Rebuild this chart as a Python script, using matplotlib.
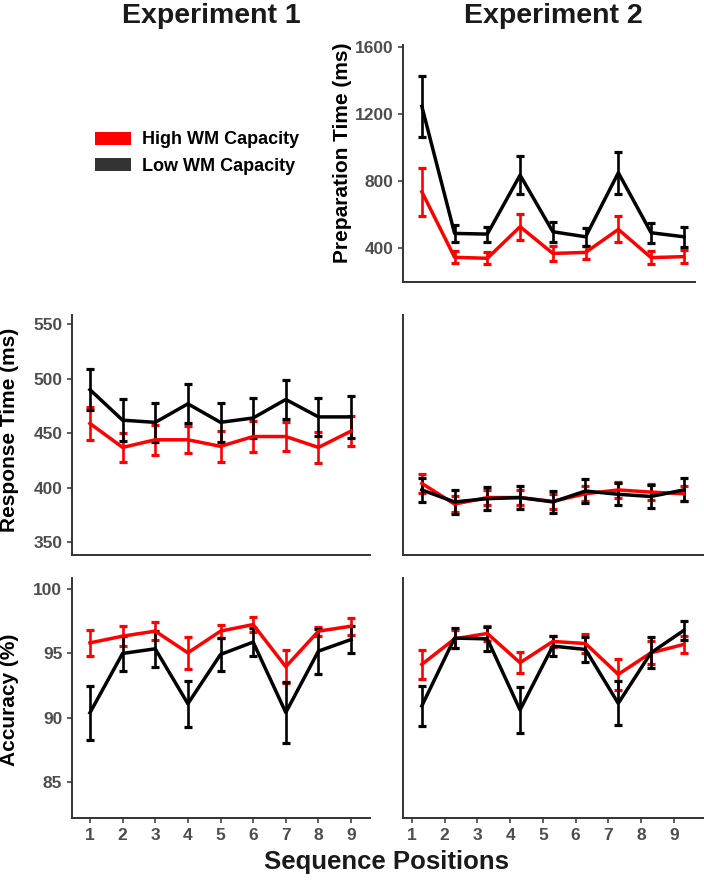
import matplotlib
matplotlib.use('Agg')
import matplotlib.pyplot as plt
from matplotlib.patches import Patch
import numpy as np

plt.rcParams['font.family'] = ['Liberation Sans', 'DejaVu Sans']
plt.rcParams['font.weight'] = 'bold'

positions = np.arange(1, 10)
exp2_shift = 0.3

# Experiment 2 preparation time (ms)
prep_high = [737, 347, 341, 529, 370, 376, 513, 345, 351]
prep_high_se = [142, 35, 35, 77, 45, 40, 77, 38, 40]
prep_low = [1245, 489, 485, 836, 499, 469, 850, 493, 469]
prep_low_se = [180, 50, 45, 113, 60, 55, 125, 60, 60]

# Response time (ms)
rt1_high = [459, 437, 444, 444, 438, 447, 447, 437, 452]
rt1_high_se = [15, 13, 13.5, 12.5, 14, 14, 13.5, 14, 14]
rt1_low = [490, 462, 460, 477, 460, 464, 481, 465, 465]
rt1_low_se = [19, 19, 18, 18, 18, 18, 18, 17.5, 19]
rt2_high = [404, 385, 391, 391, 387.5, 394.5, 398, 396, 394.5]
rt2_high_se = [8.5, 7, 7, 7, 7, 7, 7.5, 7.5, 7]
rt2_low = [398, 387, 390, 391, 387, 397, 394, 392, 398]
rt2_low_se = [11, 11, 10.5, 10.5, 10, 11, 10, 10.5, 10.5]

# Accuracy (%)
acc1_high = [95.82, 96.34, 96.73, 95.05, 96.73, 97.24, 93.97, 96.73, 97.11]
acc1_high_se = [1.0, 0.8, 0.7, 1.25, 0.5, 0.6, 1.3, 0.35, 0.65]
acc1_low = [90.4, 95.0, 95.36, 91.1, 94.92, 95.88, 90.42, 95.18, 96.08]
acc1_low_se = [2.1, 1.37, 1.4, 1.8, 1.3, 1.1, 2.4, 1.74, 1.05]
acc2_high = [94.15, 96.13, 96.55, 94.28, 95.93, 95.77, 93.38, 95.05, 95.70]
acc2_high_se = [1.13, 0.7, 0.6, 0.8, 0.4, 0.7, 1.22, 0.9, 0.65]
acc2_low = [90.93, 96.19, 96.13, 90.62, 95.57, 95.31, 91.13, 95.05, 96.78]
acc2_low_se = [1.55, 0.8, 0.93, 1.8, 0.8, 1.0, 1.7, 1.2, 0.7]

group_labels = ['High WM Capacity', 'Low WM Capacity']
group_colors = ['#ff0000', '#000000']

W, H = 704, 880
fig = plt.figure(figsize=(W / 100, H / 100), dpi=100)


def px_axes(x0, y0, x1, y1):
    return fig.add_axes([x0 / W, 1 - y1 / H, (x1 - x0) / W, (y1 - y0) / H])


def draw(ax, x, high, high_se, low, low_se):
    for m, se, c in [(high, high_se, group_colors[0]), (low, low_se, group_colors[1])]:
        ax.errorbar(x, m, yerr=se, color=c, lw=2.5, elinewidth=1.9,
                    capsize=2.6, capthick=2.3)


def style(ax, xticks=False, yticks=True):
    for s in ['top', 'right']:
        ax.spines[s].set_visible(False)
    for s in ['left', 'bottom']:
        ax.spines[s].set_color('#333333')
        ax.spines[s].set_linewidth(1.4)
    ax.tick_params(colors='#333333', labelcolor='#4d4d4d', labelsize=12.5,
                   length=3.5, width=1.1)
    if xticks:
        ax.set_xticks(positions)
    else:
        ax.set_xticks([])
    if not yticks:
        ax.set_yticks([])


# top-right: preparation time
ax_prep = px_axes(403, 45, 695, 282)
draw(ax_prep, positions + exp2_shift, prep_high, prep_high_se, prep_low, prep_low_se)
ax_prep.set_xlim(0.725, 9.64)
ax_prep.set_ylim(200, 1610)
ax_prep.set_yticks([400, 800, 1200, 1600])
style(ax_prep)

# middle row: response time
ax_rt1 = px_axes(72, 315, 370, 555)
draw(ax_rt1, positions, rt1_high, rt1_high_se, rt1_low, rt1_low_se)
ax_rt1.set_xlim(0.45, 9.58)
ax_rt1.set_ylim(338.3, 558.5)
ax_rt1.set_yticks([350, 400, 450, 500, 550])
style(ax_rt1)

ax_rt2 = px_axes(403, 315, 704, 555)
draw(ax_rt2, positions + exp2_shift, rt2_high, rt2_high_se, rt2_low, rt2_low_se)
ax_rt2.set_xlim(0.725, 9.92)
ax_rt2.set_ylim(338.3, 558.5)
style(ax_rt2, yticks=False)

# bottom row: accuracy
ax_acc1 = px_axes(72, 578, 370, 818)
draw(ax_acc1, positions, acc1_high, acc1_high_se, acc1_low, acc1_low_se)
ax_acc1.set_xlim(0.45, 9.58)
ax_acc1.set_ylim(82.24, 100.85)
ax_acc1.set_yticks([85, 90, 95, 100])
style(ax_acc1, xticks=True)

ax_acc2 = px_axes(403, 578, 704, 818)
draw(ax_acc2, positions + exp2_shift, acc2_high, acc2_high_se, acc2_low, acc2_low_se)
ax_acc2.set_xlim(0.725, 9.92)
ax_acc2.set_ylim(82.24, 100.85)
style(ax_acc2, xticks=True, yticks=False)

# labels
fig.text(211 / W, 1 - 16 / H, 'Experiment 1', fontsize=20.5,
         weight='bold', ha='center', va='center', color='#1a1a1a')
fig.text(553 / W, 1 - 16 / H, 'Experiment 2', fontsize=20.5,
         weight='bold', ha='center', va='center', color='#1a1a1a')
fig.text(387 / W, 1 - 862 / H, 'Sequence Positions', fontsize=18.5,
         weight='bold', ha='center', va='center', color='#1a1a1a')
fig.text(342 / W, 1 - 153 / H, 'Preparation Time (ms)', fontsize=15,
         rotation=90, ha='center', va='center')
fig.text(10 / W, 1 - 430 / H, 'Response Time (ms)', fontsize=15,
         rotation=90, ha='center', va='center')
fig.text(10 / W, 1 - 700 / H, 'Accuracy (%)', fontsize=15,
         rotation=90, ha='center', va='center')

handles = [Patch(facecolor=group_colors[0]), Patch(facecolor='#333333')]
fig.legend(handles, group_labels, loc='center left',
           bbox_to_anchor=(95 / W, 1 - 153 / H), frameon=False,
           fontsize=13, handlelength=2.0, handleheight=0.75,
           handletextpad=0.6, labelspacing=0.5, borderaxespad=0,
           borderpad=0)

fig.savefig('out.png', dpi=100)
